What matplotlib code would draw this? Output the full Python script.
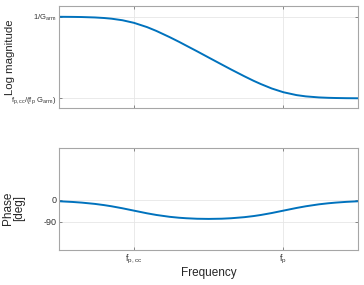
import matplotlib
matplotlib.use('Agg')
import matplotlib.pyplot as plt

plt.rcParams['font.family'] = ['Liberation Sans', 'DejaVu Sans']
plt.rcParams['mathtext.default'] = 'regular'

# frequency normalised to f_p,cc = 1 (f_p = 100), magnitude normalised to 1/G_arm = 1
freq = [0.1, 0.15, 0.2, 0.3, 0.4, 0.5, 0.7, 1, 1.5, 2, 3, 4, 5, 7, 10, 15, 20,
        30, 40, 50, 70, 100, 150, 200, 300, 400, 500, 700, 1000]
magnitude = [0.995, 0.989, 0.981, 0.958, 0.928, 0.894, 0.819, 0.707, 0.555,
             0.447, 0.316, 0.243, 0.196, 0.142, 0.100, 0.0673, 0.0509, 0.0348,
             0.0269, 0.0224, 0.01744, 0.01414, 0.01202, 0.01118, 0.01054,
             0.01031, 0.0102, 0.0101, 0.01005]
phase = [-5.6, -8.4, -11.2, -16.5, -21.6, -26.3, -34.6, -44.4, -55.5, -62.3,
         -69.9, -73.7, -75.8, -77.9, -78.6, -77.7, -75.8, -71.4, -66.8, -62.3,
         -54.2, -44.4, -33.3, -26.3, -18.2, -13.9, -11.2, -8.0, -5.6]

x_ticks = [1, 100]
x_labels = [r'$f_{p,cc}$', r'$f_p$']
mag_ticks = [0.01, 1]
mag_labels = [r'$f_{p,cc}/(f_p\ G_{arm})$', r'$1/G_{arm}$']
phase_ticks = [-90, 0]
phase_labels = ['-90', '0']

line_color = '#0072BD'
box_color = '#a6a6a6'

fig = plt.figure(figsize=(3.64, 2.85), dpi=100)
ax1 = fig.add_axes([0.163, 0.621, 0.8205, 0.358])
ax2 = fig.add_axes([0.163, 0.123, 0.8205, 0.357])

ax1.plot(freq, magnitude, color=line_color, linewidth=1.4)
ax2.plot(freq, phase, color=line_color, linewidth=1.4)

for ax in (ax1, ax2):
    ax.set_xscale('log')
    ax.set_xlim(0.1, 1000)
    ax.set_xticks(x_ticks)
    ax.minorticks_off()
    ax.grid(True, color='#e6e6e6', linewidth=0.6)
    ax.tick_params(direction='in', length=2.5, width=0.6, color='#777777',
                   labelsize=5.5, labelcolor='#333333', top=True, right=True, pad=2)
    for s in ax.spines.values():
        s.set_color(box_color)
        s.set_linewidth(0.8)

ax1.set_yscale('log')
ax1.set_ylim(0.0058, 1.83)
ax1.set_yticks(mag_ticks)
ax1.set_yticklabels(mag_labels)
ax1.minorticks_off()
ax1.set_xticklabels([])
ax1.set_ylabel('Log magnitude', fontsize=8.2, color='#262626')
ax1.yaxis.set_label_coords(-0.147, 0.5)

ax2.set_ylim(-207, 214)
ax2.set_yticks(phase_ticks)
ax2.set_yticklabels(phase_labels, fontsize=6.5)
ax2.set_xticklabels(x_labels, fontsize=6.5)
ax2.set_ylabel('Phase\n[deg]', fontsize=8.5, color='#262626', linespacing=1.0)
ax2.yaxis.set_label_coords(-0.113, 0.41)
ax2.set_xlabel('Frequency', fontsize=8.5, color='#262626', labelpad=1)

fig.savefig('out.png', dpi=100)
